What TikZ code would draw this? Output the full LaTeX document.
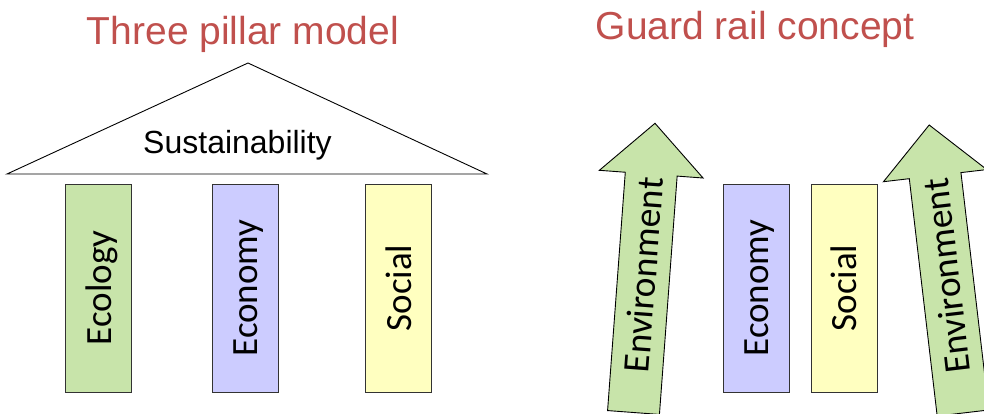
\documentclass[tikz,border=0pt]{standalone}
\usepackage{fontspec}
\setmainfont{Liberation Sans}
\newfontfamily\pillarfont{Carlito}
\usetikzlibrary{calc}

\definecolor{titlered}{HTML}{C0504D}
\definecolor{ecogreen}{HTML}{C8E4AA}
\definecolor{econblue}{HTML}{CCCCFF}
\definecolor{socyellow}{HTML}{FFFFC0}

\tikzset{
    heading/.style={anchor=base, text=titlered, inner sep=0pt, font=\fontsize{39}{44}\selectfont},
    pillar/.style={draw=black!80, line width=0.9pt, rotate=90, minimum width=208pt, minimum height=66pt,
        inner sep=0pt, text height=25pt, text depth=0pt, font=\pillarfont\fontsize{37}{41}\selectfont},
    railarrow/.style={draw=black, line width=0.9pt, fill=ecogreen, line join=miter},
    railtext/.style={transform shape, rotate=90, inner sep=0pt, text height=25pt, text depth=0pt,
        font=\pillarfont\fontsize{37.5}{41}\selectfont}
}

\begin{document}
\begin{tikzpicture}[x=1pt,y=-1pt]
    \useasboundingbox (0,0) rectangle (984,414);
    \clip (0,0) rectangle (984,414);

    \pgfmathsetmacro{\ph}{288}% pillar centre height

    % three pillar model
    \node[heading] (pillarTitle) at (243,45) {Three pillar model};

    \coordinate (apex) at (248,63);
    \coordinate (eaveL) at (7,174);
    \coordinate (eaveR) at (487,174);
    \draw[line width=0.9pt, line join=miter] (eaveL) -- (apex) -- (eaveR) -- cycle;
    \node[anchor=base, inner sep=0pt, font=\fontsize{32}{36}\selectfont] (roof) at (237.5,154) {Sustainability};

    \node[pillar, fill=ecogreen] (ecology) at (98.5,\ph) {Ecology};
    \node[pillar, fill=econblue] (economy) at (245,\ph) {Economy};
    \node[pillar, fill=socyellow] (social) at (398.7,\ph) {Social};

    % guard rail concept
    \node[heading] (railTitle) at (755,40) {Guard rail concept};

    \node[pillar, fill=econblue] (economyR) at (756,\ph) {Economy};
    \node[pillar, fill=socyellow] (socialR) at (844,\ph) {Social};

    \foreach \bx/\by/\ang/\nm in {633.5/412.5/-4.25/envL, 963/413/6.7/envR}{
        \begin{scope}[shift={(\bx,\by)}, rotate=\ang]
            \draw[railarrow] (-26,0) -- (-26,-239) -- (-52,-239) -- (0,-290)
                -- (52,-239) -- (26,-239) -- (26,0) -- cycle;
            \node[railtext] (\nm) at (0,-138) {Environment};
        \end{scope}
    }

\end{tikzpicture}
\end{document}
